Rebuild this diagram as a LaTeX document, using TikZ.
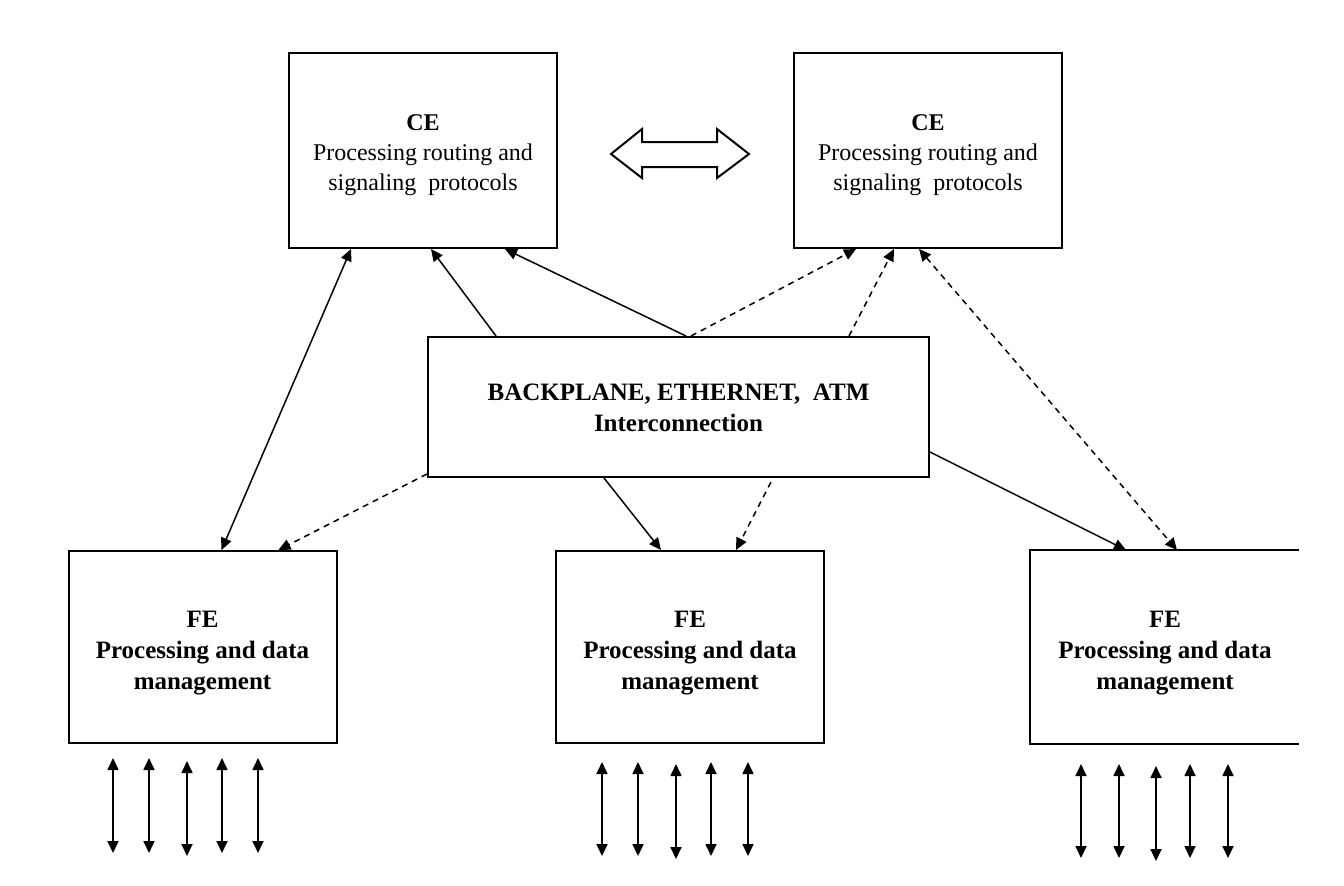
\documentclass[tikz,border=0pt]{standalone}
\usepackage{fontspec}
\setmainfont{Liberation Serif}
\usetikzlibrary{arrows.meta,calc}
\begin{document}
\begin{tikzpicture}[x=0.5pt,y=-0.5pt,
  box/.style={draw,line width=1pt,rectangle,inner sep=0pt},
  cebox/.style={box,minimum width=134pt,minimum height=97.5pt},
  febox/.style={box,minimum width=134pt,minimum height=96pt},
  cetext/.style={align=center,inner sep=0pt,font=\fontsize{12}{15}\selectfont},
  betext/.style={align=center,inner sep=0pt,font=\fontsize{12.5}{15.5}\selectfont\bfseries},
  link/.style={line width=0.75pt,-{Triangle[length=6pt,width=5.5pt]}},
  blink/.style={line width=0.75pt,{Triangle[length=6pt,width=5.5pt]}-{Triangle[length=6pt,width=5.5pt]}},
  dlink/.style={link,dash pattern=on 3pt off 2.5pt},
  dblink/.style={blink,dash pattern=on 3pt off 2.5pt},
  io/.style={line width=0.85pt,{Triangle[length=6pt,width=5.5pt]}-{Triangle[length=6pt,width=5.5pt]}}]
\useasboundingbox (0,0) rectangle (1344,885);
% control elements
\node[cebox] (cel) at (423,150.5) {};
\node[cebox] (cer) at (928,150.5) {};
\node[cetext] (celt) at ($(cel.center)+(0,5)$) {\textbf{CE}\\Processing routing and\\signaling\ \ protocols};
\node[cetext] (cert) at ($(cer.center)+(0,5)$) {\textbf{CE}\\Processing routing and\\signaling\ \ protocols};
% interconnection
\node[box,minimum width=250.5pt,minimum height=70pt] (bp) at (678.5,407) {};
\node[betext] (bpt) at ($(bp.center)+(0,0.5)$) {BACKPLANE, ETHERNET,\ \ ATM\\Interconnection};
% forwarding elements
\node[febox] (fel) at (202.5,647) {};
\node[febox] (fem) at (690,647) {};
\node[febox,draw=none] (fer) at (1165,647) {};
\coordinate (rc) at (1299,0);
\draw[line width=1pt] (rc |- fer.north west) -- (fer.north west) -- (fer.south west) -- (rc |- fer.south west);
\foreach \n in {fel,fem,fer}{
  \node[betext] (\n t) at ($(\n.center)+(0,6)$) {FE\\Processing and data\\management};}
% hollow double arrow between CEs
\draw[line width=1pt,line join=miter] (611,154) -- (642,129) -- (642,142) -- (717,142) -- (717,129) -- (749,154)
  -- (717,178) -- (717,167) -- (642,167) -- (642,178) -- cycle;
% connectors
\draw[blink] ($(cel.south west)+(63,0)$) -- ($(fel.north west)+(154,0)$);
\draw[link] ($(bp.north west)+(69,0)$) -- ($(cel.south west)+(143,0)$);
\draw[link] ($(bp.north west)+(259,0)$) -- ($(cel.south west)+(217,0)$);
\draw[dlink] ($(bp.north west)+(264,0)$) -- ($(cer.south west)+(63,0)$);
\draw[dlink] ($(bp.north west)+(422,0)$) -- ($(cer.south west)+(101,0)$);
\draw[dblink] ($(cer.south west)+(126,0)$) -- ($(fer.north west)+(147,0)$);
\draw[dlink] ($(bp.south west)+(0,-4)$) -- ($(fel.north west)+(211,0)$);
\draw[link] ($(bp.south west)+(177,0)$) -- ($(fem.north west)+(106,0)$);
\coordinate (dm) at (771,482);
\draw[dlink] (dm) -- ($(fem.north west)+(181,0)$);
\draw[link] ($(bp.north east)+(0,116)$) -- ($(fer.north west)+(96,0)$);
% external I/O arrows
\foreach \i/\x/\a/\b in {1/113/758/853,2/149/758/853,3/187/761/856,4/222/758/853,5/258/758/853}{
  \coordinate (la\i) at (\x,\a); \coordinate (lb\i) at (\x,\b);
  \draw[io] (la\i) -- (lb\i);}
\foreach \i/\x/\a/\b in {1/602/762/856,2/638/762/856,3/676/764/859,4/711/762/856,5/748/762/856}{
  \coordinate (ma\i) at (\x,\a); \coordinate (mb\i) at (\x,\b);
  \draw[io] (ma\i) -- (mb\i);}
\foreach \i/\x/\a/\b in {1/1081/764/858,2/1119/764/858,3/1156/766/861,4/1190/764/858,5/1228/764/858}{
  \coordinate (ra\i) at (\x,\a); \coordinate (rb\i) at (\x,\b);
  \draw[io] (ra\i) -- (rb\i);}
\end{tikzpicture}
\end{document}
